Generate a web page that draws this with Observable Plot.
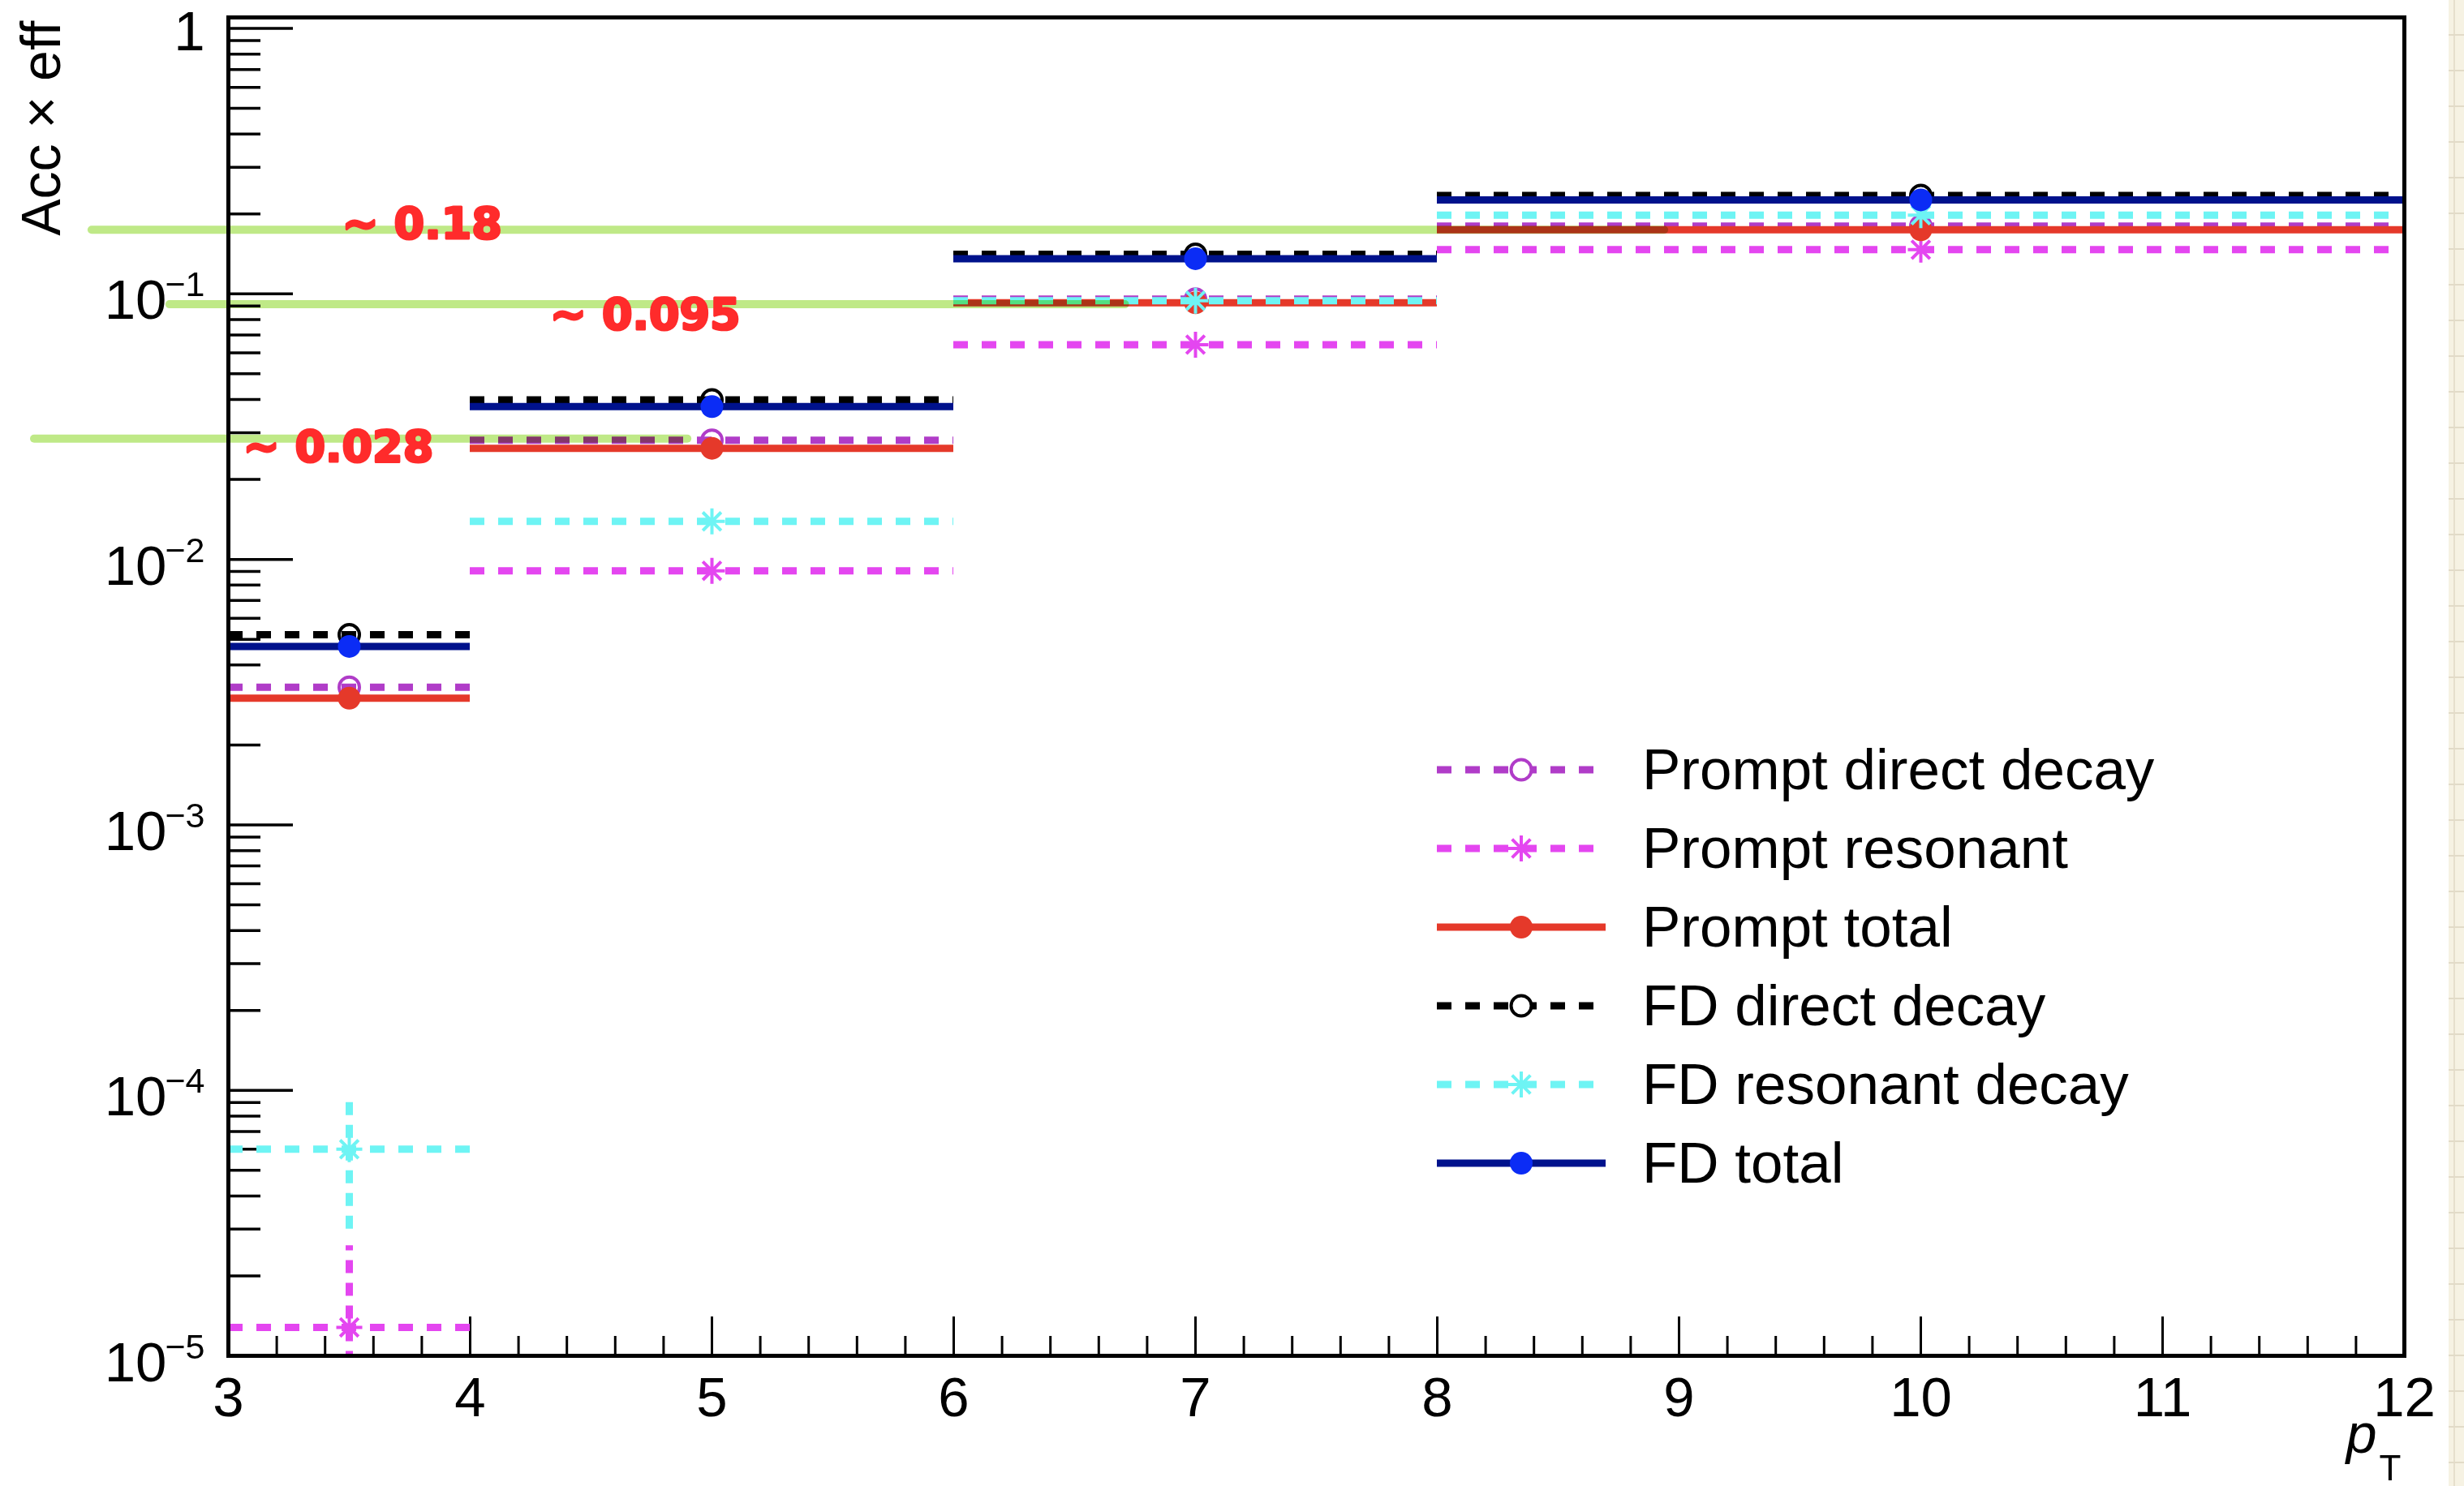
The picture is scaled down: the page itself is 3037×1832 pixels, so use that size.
<!DOCTYPE html>
<html><head><meta charset="utf-8">
<script src="https://cdn.jsdelivr.net/npm/d3@7"></script>
<script src="https://cdn.jsdelivr.net/npm/@observablehq/plot@0.6"></script>
<style>
html,body{margin:0;padding:0;background:#fff;overflow:hidden;}
#wrap{display:flex;width:3037px;height:1832px;}
#strip{width:19px;height:1832px;background-color:#f6f2e3;
 background-image:repeating-linear-gradient(to bottom, transparent 0 42px, #e2dbc8 42px 44px),
 linear-gradient(to right, transparent 0 6px, #e6dfcc 6px 8px, transparent 8px);}
</style></head><body><div id="wrap"><div id="chart"></div><div id="strip"></div></div>
<script>
// ---------------- data ----------------
const binLow = [3, 4, 6, 8];
const binHigh = [4, 6, 8, 12];
const binCenter = [3.5, 5, 7, 10];
const seriesNames = ["Prompt direct decay", "Prompt resonant", "Prompt total", "FD direct decay", "FD resonant decay", "FD total"];
const promptDirect   = [3.3e-3, 0.0281, 0.0956, 0.180];
const promptResonant = [1.28e-5, 0.00906, 0.0644, 0.1467];
const promptTotal    = [3.0e-3, 0.0262, 0.0926, 0.1743];
const fdDirect       = [5.2e-3, 0.0399, 0.141, 0.235];
const fdResonant     = [6.0e-5, 0.0139, 0.0943, 0.198];
const fdTotal        = [4.7e-3, 0.0376, 0.1357, 0.226];
const promptResonantErr = [1.32e-5, 0, 0, 0];
const fdResonantErr     = [3.0e-5, 0, 0, 0];
const noErr             = [0, 0, 0, 0];
const xTickValues = [3, 4, 5, 6, 7, 8, 9, 10, 11, 12];
const yTickValues = [1, 1e-1, 1e-2, 1e-3, 1e-4, 1e-5];
const yTickExponents = ["", "−1", "−2", "−3", "−4", "−5"];
// hand-drawn annotations
const markLevels = [0.1744, 0.0914, 0.0285];
const markStart  = [2.436, 2.758, 2.198];
const markEnd    = [8.94, 6.71, 4.9];
const markLabels = ["~ 0.18", "~ 0.095", "~ 0.028"];
const markLabelX = [3.47, 4.33, 3.06];
const markLabelY = [0.1622, 0.0738, 0.0234];

// ---------------- styles ----------------
const seriesValues = [promptDirect, promptResonant, promptTotal, fdDirect, fdResonant, fdTotal];
const seriesErrors = [noErr, promptResonantErr, noErr, noErr, fdResonantErr, noErr];
const styles = [
  {line: "#b03cc8", marker: "#b03cc8", dash: true,  kind: "open"},
  {line: "#e446f0", marker: "#e446f0", dash: true,  kind: "star"},
  {line: "#e5392a", marker: "#e5392a", dash: false, kind: "filled"},
  {line: "#000000", marker: "#000000", dash: true,  kind: "open"},
  {line: "#6ef4f4", marker: "#6ef4f4", dash: true,  kind: "star"},
  {line: "#00128c", marker: "#0b2cf5", dash: false, kind: "filled"}
];
const DASH = "18 17";
const LW = 9;
const R_FILLED = 14, R_OPEN = 12.5, R_STAR = 16;
const asterisk8 = {
  draw(ctx, size) {
    const r = Math.sqrt(size / Math.PI), d = r * Math.SQRT1_2;
    ctx.moveTo(-r, 0); ctx.lineTo(r, 0);
    ctx.moveTo(0, -r); ctx.lineTo(0, r);
    ctx.moveTo(-d, -d); ctx.lineTo(d, d);
    ctx.moveTo(-d, d); ctx.lineTo(d, -d);
  }
};

const W = 3018, H = 1832, mL = 281, mR = 55, mT = 21, mB = 161;
const yMax = 1.1, yMin = 1e-5;
const pxPerX = (W - mL - mR) / (12 - 3);
const pxPerDecade = (H - mT - mB) / (Math.log10(yMax) - Math.log10(yMin));

const yMinor = [];
for (let k = -5; k <= -1; k++) for (let m = 2; m <= 9; m++) yMinor.push(m * Math.pow(10, k));
const xMinor = [];
for (let i = 0; i <= 45; i++) if (i % 5) xMinor.push(3 + i * 0.2);

const marks = [];
// axis ticks (ROOT style, inward)
marks.push(Plot.ruleY(yTickValues, {y: d => d, x1: 3, x2: 3 + 80 / pxPerX, stroke: "black", strokeWidth: 3.5}));
marks.push(Plot.ruleY(yMinor, {y: d => d, x1: 3, x2: 3 + 40 / pxPerX, stroke: "black", strokeWidth: 3.5}));
marks.push(Plot.ruleX(xTickValues, {x: d => d, y1: yMin, y2: yMin * Math.pow(10, 48 / pxPerDecade), stroke: "black", strokeWidth: 3}));
marks.push(Plot.ruleX(xMinor, {x: d => d, y1: yMin, y2: yMin * Math.pow(10, 24 / pxPerDecade), stroke: "black", strokeWidth: 3}));

// data series
seriesNames.forEach((name, s) => {
  const st = styles[s];
  const rows = binLow.map((lo, i) => ({lo, hi: binHigh[i], c: binCenter[i], v: seriesValues[s][i], e: seriesErrors[s][i]}));
  marks.push(Plot.ruleY(rows, {x1: "lo", x2: "hi", y: "v", stroke: st.line, strokeWidth: LW, strokeDasharray: st.dash ? DASH : null}));
  const errRows = rows.filter(d => d.e > 0);
  if (errRows.length) {
    marks.push(Plot.ruleX(errRows, {x: "c", y1: d => Math.max(d.v - d.e, 1e-7), y2: d => d.v + d.e,
      stroke: st.line, strokeWidth: LW, strokeDasharray: "16 12", clip: true}));
  }
  if (st.kind === "filled") {
    marks.push(Plot.dot(rows, {x: "c", y: "v", r: R_FILLED, fill: st.marker, stroke: "none"}));
  } else if (st.kind === "open") {
    marks.push(Plot.dot(rows, {x: "c", y: "v", r: R_OPEN, fill: "none", stroke: st.marker, strokeWidth: 4}));
  } else {
    marks.push(Plot.dot(rows, {x: "c", y: "v", r: R_STAR, symbol: asterisk8, fill: "none", stroke: st.marker, strokeWidth: 4}));
  }
});

// frame
marks.push(Plot.frame({stroke: "black", strokeWidth: 5}));

// tick labels
marks.push(Plot.text(xTickValues, {x: d => d, frameAnchor: "bottom", text: d => String(d), lineAnchor: "bottom", dy: 74, fontSize: 69, fill: "black"}));
const yTens = yTickValues.filter(d => d < 1);
marks.push(Plot.text(yTens, {y: d => d, frameAnchor: "left", text: () => "10", textAnchor: "end", lineAnchor: "bottom", dx: -76, dy: 31, fontSize: 69, fill: "black"}));
marks.push(Plot.text(yTens, {y: d => d, frameAnchor: "left", text: d => yTickExponents[yTickValues.indexOf(d)], textAnchor: "end", lineAnchor: "bottom", dx: -29, dy: 3, fontSize: 43, fill: "black"}));
marks.push(Plot.text(yTickValues.filter(d => d === 1), {y: d => d, frameAnchor: "left", text: d => String(d), textAnchor: "end", lineAnchor: "bottom", dx: -29, dy: 27, fontSize: 69, fill: "black"}));

// axis titles
marks.push(Plot.text(["Acc × eff"], {frameAnchor: "top-left", text: d => d, rotate: -90, textAnchor: "end", lineAnchor: "bottom", dx: -208, dy: 4, fontSize: 68, fill: "black"}));
marks.push(Plot.text(["p"], {frameAnchor: "bottom-right", text: d => d, textAnchor: "end", lineAnchor: "bottom", dx: -34, dy: 119, fontSize: 68, fontStyle: "italic", fill: "black"}));
marks.push(Plot.text(["T"], {frameAnchor: "bottom-right", text: d => d, textAnchor: "start", lineAnchor: "bottom", dx: -31, dy: 153, fontSize: 44, fill: "black"}));

// highlighter lines (multiply blend) and handwritten labels
const markRows = markLevels.map((y, i) => ({y, x1: markStart[i], x2: markEnd[i], label: markLabels[i], lx: markLabelX[i], ly: markLabelY[i]}));
marks.push(Plot.ruleY(markRows, {y: "y", x1: "x1", x2: "x2", stroke: "#bfe987", strokeWidth: 10, strokeLinecap: "round", mixBlendMode: "multiply"}));
marks.push(Plot.text(markRows, {x: "lx", y: "ly", text: "label", textAnchor: "start", lineAnchor: "bottom",
  fontSize: 54, fontWeight: "bold", fontFamily: "DejaVu Sans", fill: "#ff2b2b", stroke: "#ff2b2b", strokeWidth: 3, strokeLinejoin: "round"}));

// legend
const LEG = {x1: 1771, x2: 1979, x2dash: 1967, xm: 1875, xt: 2024, y0: 949, dy: 97};
marks.push(() => {
  const g = d3.create("svg:g");
  seriesNames.forEach((name, i) => {
    const st = styles[i], y = LEG.y0 + i * LEG.dy;
    g.append("line").attr("x1", LEG.x1).attr("x2", st.dash ? LEG.x2dash : LEG.x2).attr("y1", y).attr("y2", y)
      .attr("stroke", st.line).attr("stroke-width", LW).attr("stroke-dasharray", st.dash ? DASH : null);
    if (st.kind === "filled") {
      g.append("circle").attr("cx", LEG.xm).attr("cy", y).attr("r", R_FILLED).attr("fill", st.marker);
    } else if (st.kind === "open") {
      g.append("circle").attr("cx", LEG.xm).attr("cy", y).attr("r", R_OPEN).attr("fill", "white").attr("stroke", st.marker).attr("stroke-width", 4);
    } else {
      g.append("path").attr("transform", `translate(${LEG.xm},${y})`).attr("d", d3.symbol(asterisk8, Math.PI * R_STAR * R_STAR)())
        .attr("fill", "none").attr("stroke", st.marker).attr("stroke-width", 4);
    }
    g.append("text").attr("x", LEG.xt).attr("y", y + 24).attr("font-size", 71).attr("text-anchor", "start")
      .attr("fill", "black").text(name);
  });
  return g.node();
});

const chart = Plot.plot({
  width: W, height: H,
  marginLeft: mL, marginRight: mR, marginTop: mT, marginBottom: mB,
  style: {fontFamily: "'Liberation Sans', Arial, Helvetica, sans-serif", background: "white", overflow: "visible"},
  x: {domain: [3, 12], axis: null},
  y: {type: "log", domain: [yMin, yMax], axis: null},
  marks
});
document.getElementById("chart").appendChild(chart);
</script>
</body></html>
